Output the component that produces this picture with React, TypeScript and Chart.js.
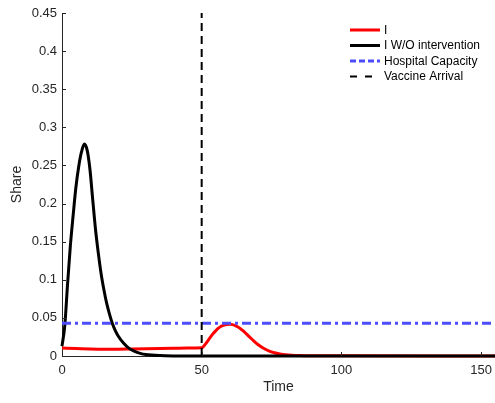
import React, { useEffect, useRef } from "react";
import { Chart, registerables } from "chart.js";

Chart.register(...registerables);

// ---- data ----
const iTime = [0, 5, 10, 15, 20, 25, 30, 35, 40, 45, 50, 51, 52, 53, 54, 55, 56, 57, 58, 59, 60, 61, 62, 63, 64, 65, 66, 67, 68, 69, 70, 72, 74, 76, 78, 80, 85, 90, 100, 155];
const iValues = [0.0104, 0.0099, 0.0093, 0.0090, 0.0090, 0.0093, 0.0096, 0.0099, 0.0102, 0.0105, 0.0108, 0.014, 0.019, 0.024, 0.029, 0.033, 0.0365, 0.039, 0.0405, 0.0413, 0.0415, 0.0412, 0.040, 0.038, 0.0355, 0.0325, 0.029, 0.0255, 0.022, 0.0185, 0.0155, 0.0105, 0.0068, 0.0043, 0.0027, 0.0017, 0.0006, 0.0003, 0.0002, 0.0001];

const woTime = [0, 1, 2, 3, 4, 5, 6, 7, 8, 9, 10, 11, 12, 13, 14, 15, 16, 17, 18, 19, 20, 22, 24, 26, 28, 30, 35, 40, 50, 155];
const woValues = [0.013, 0.04, 0.095, 0.145, 0.185, 0.222, 0.249, 0.268, 0.278, 0.27, 0.245, 0.205, 0.166, 0.135, 0.108, 0.087, 0.069, 0.055, 0.043, 0.034, 0.027, 0.017, 0.010, 0.006, 0.0035, 0.002, 0.0005, 0.0001, 0, 0];

const capacityTime = [0, 155];
const capacityValues = [0.043, 0.043];

const vaccineTime = [50, 50];
const vaccineValues = [0, 0.45];

const xTicks = [0, 50, 100, 150];
const yTicks = [0, 0.05, 0.1, 0.15, 0.2, 0.25, 0.3, 0.35, 0.4, 0.45];

const seriesNames = ["I", "I W/O intervention", "Hospital Capacity", "Vaccine Arrival"];

const AXIS = "#262626";
const FONT = "'Liberation Sans', Arial, Helvetica, sans-serif";
const BLUE = "rgb(77,77,255)";

const pts = (xs: number[], ys: number[]) => xs.map((x, i) => ({ x, y: ys[i] }));

export default function App() {
  const ref = useRef<HTMLCanvasElement | null>(null);

  useEffect(() => {
    if (!ref.current) return;

    const overlay = {
      id: "overlay",
      afterDraw(chart: any) {
        const ctx = chart.ctx;
        const xs = chart.scales.x;
        const ys = chart.scales.y;
        const area = chart.chartArea;
        ctx.save();
        // inward ticks
        ctx.strokeStyle = AXIS;
        ctx.lineWidth = 1;
        ctx.beginPath();
        xTicks.forEach((v) => {
          const px = Math.round(xs.getPixelForValue(v)) + 0.5;
          ctx.moveTo(px, area.bottom);
          ctx.lineTo(px, area.bottom - 4);
        });
        yTicks.forEach((v) => {
          const py = Math.round(ys.getPixelForValue(v)) + 0.5;
          ctx.moveTo(area.left, py);
          ctx.lineTo(area.left + 4, py);
        });
        ctx.stroke();

        // axis titles
        ctx.fillStyle = AXIS;
        ctx.font = `14px ${FONT}`;
        ctx.textAlign = "center";
        ctx.textBaseline = "middle";
        ctx.fillText("Time", (xs.getPixelForValue(0) + xs.getPixelForValue(155)) / 2, 387);
        ctx.save();
        ctx.translate(17, (area.top + area.bottom) / 2);
        ctx.rotate(-Math.PI / 2);
        ctx.fillText("Share", 0, 0);
        ctx.restore();

        // legend
        const rows = [
          { color: "#ff0000", dash: [] as number[], width: 3 },
          { color: "#000000", dash: [] as number[], width: 3 },
          { color: BLUE, dash: [6, 3], width: 3 },
          { color: "#000000", dash: [7, 8], width: 2 },
        ];
        ctx.font = `12px ${FONT}`;
        ctx.textAlign = "left";
        rows.forEach((r, i) => {
          const y = 30 + i * 15.5;
          ctx.beginPath();
          ctx.setLineDash(r.dash);
          ctx.strokeStyle = r.color;
          ctx.lineWidth = r.width;
          ctx.moveTo(350, y);
          ctx.lineTo(380, y);
          ctx.stroke();
          ctx.setLineDash([]);
          ctx.fillStyle = "#000000";
          ctx.fillText(seriesNames[i], 384, y + 0.5);
        });
        ctx.restore();
      },
    };

    const chart = new Chart(ref.current, {
      type: "line",
      data: {
        datasets: [
          {
            label: seriesNames[0],
            data: pts(iTime, iValues),
            borderColor: "#ff0000",
            borderWidth: 3,
            pointRadius: 0,
            cubicInterpolationMode: "monotone",
            order: 4,
            clip: 4,
          },
          {
            label: seriesNames[1],
            data: pts(woTime, woValues),
            borderColor: "#000000",
            borderWidth: 3,
            pointRadius: 0,
            cubicInterpolationMode: "monotone",
            order: 3,
            clip: 4,
          },
          {
            label: seriesNames[2],
            data: pts(capacityTime, capacityValues),
            borderColor: BLUE,
            borderWidth: 3,
            borderDash: [9, 4, 3, 4],
            pointRadius: 0,
            order: 2,
            clip: 4,
          },
          {
            label: seriesNames[3],
            data: pts(vaccineTime, vaccineValues),
            borderColor: "#000000",
            borderWidth: 2,
            borderDash: [8, 5],
            pointRadius: 0,
            order: 1,
            clip: 4,
          },
        ],
      },
      options: {
        animation: false,
        responsive: false,
        maintainAspectRatio: false,
        layout: { padding: { top: 13, right: 0, left: 0, bottom: 0 } },
        plugins: { legend: { display: false }, tooltip: { enabled: false } },
        scales: {
          x: {
            type: "linear",
            min: 0,
            max: 155,
            afterBuildTicks: (s: any) => {
              s.ticks = xTicks.map((v) => ({ value: v }));
            },
            afterFit: (s: any) => {
              s.height = 47;
              s.paddingRight = 0;
              s.paddingLeft = 0;
            },
            grid: { display: false, drawTicks: false },
            border: { display: true, color: AXIS, width: 1 },
            ticks: {
              padding: 7,
              color: AXIS,
              font: { family: FONT, size: 13 },
              maxRotation: 0,
              callback: (v: any) => String(v),
            },
          },
          y: {
            type: "linear",
            min: 0,
            max: 0.45,
            afterBuildTicks: (s: any) => {
              s.ticks = yTicks.map((v) => ({ value: v }));
            },
            afterFit: (s: any) => {
              s.width = 62;
              s.paddingTop = 0;
              s.paddingBottom = 0;
            },
            grid: { display: false, drawTicks: false },
            border: { display: true, color: AXIS, width: 1 },
            ticks: {
              padding: 5,
              color: AXIS,
              font: { family: FONT, size: 13 },
              callback: (v: any) => String(Math.round(v * 100) / 100),
            },
          },
        },
      },
      plugins: [overlay],
    } as any);

    return () => chart.destroy();
  }, []);

  return (
    <div style={{ position: "fixed", left: 0, top: 0, width: 495, height: 403, background: "#fff" }}>
      <canvas ref={ref} width={495} height={403} style={{ width: 495, height: 403, display: "block" }} />
    </div>
  );
}
